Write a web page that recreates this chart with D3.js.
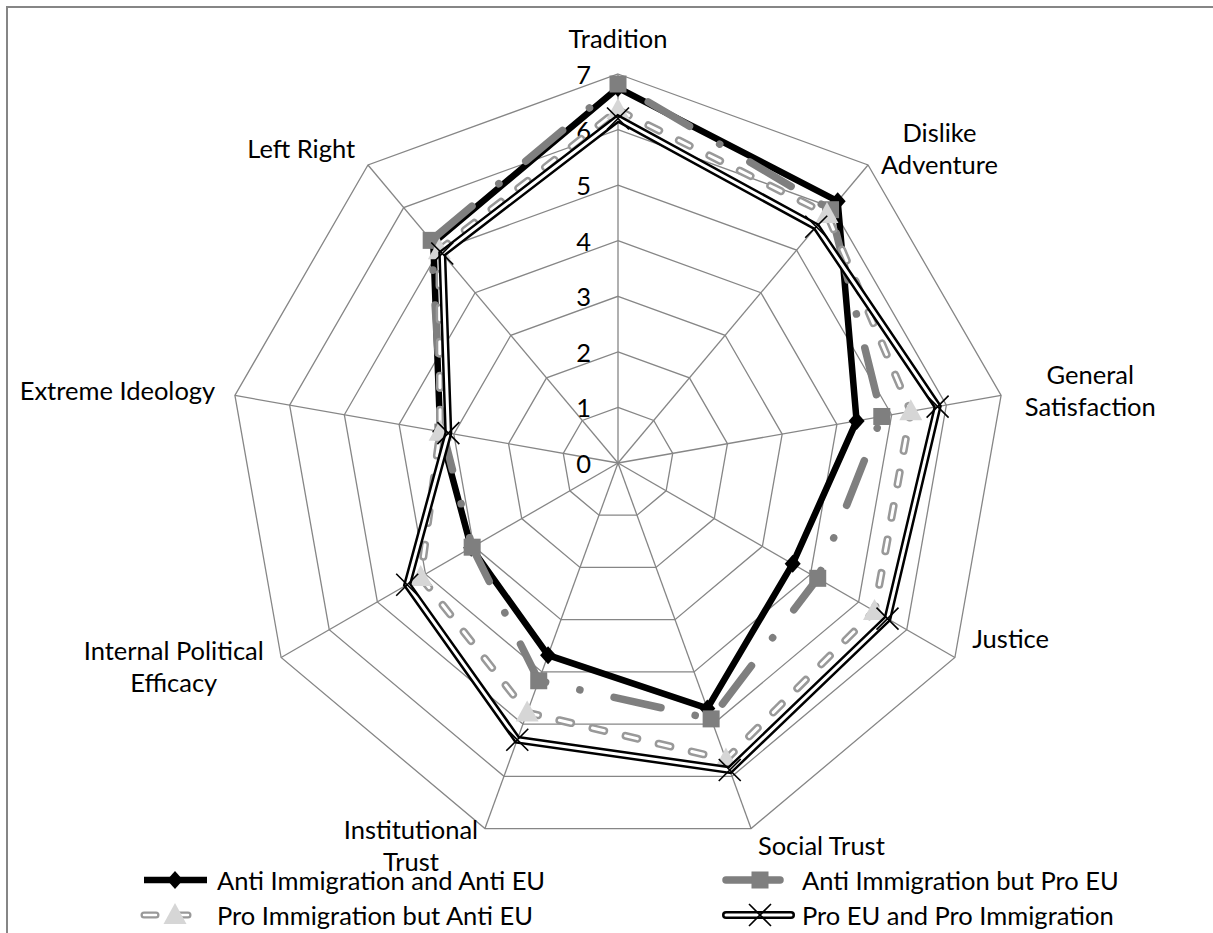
<!DOCTYPE html>
<html><head><meta charset="utf-8">
<script src="https://cdn.jsdelivr.net/npm/d3@7"></script>
<style>
body{margin:0;background:#fff}
svg{display:block}
text{font-family:Lato,'Open Sans',sans-serif;fill:#000}
</style>
</head><body>
<svg id="chart" width="1213" height="933"></svg>
<script>
// ---------- data ----------
const categories = ["Tradition", "Dislike\nAdventure", "General\nSatisfaction", "Justice", "Social Trust",
  "Institutional\nTrust", "Internal Political\nEfficacy", "Extreme Ideology", "Left Right"];
const seriesNames = ["Anti Immigration and Anti EU", "Anti Immigration but Pro EU",
  "Pro Immigration but Anti EU", "Pro EU and Pro Immigration"];
const antiImmAntiEU = [6.75, 6.15, 4.36, 3.63, 4.70, 3.68, 3.05, 3.25, 5.17];
const antiImmProEU  = [6.82, 5.95, 4.82, 4.15, 4.90, 4.17, 3.03, 3.20, 5.23];
const proImmAntiEU  = [6.35, 5.85, 5.35, 5.33, 5.68, 4.78, 4.10, 3.25, 5.00];
const proEUProImm   = [6.20, 5.55, 5.84, 5.60, 5.88, 5.30, 4.38, 3.10, 4.92];
const tickValues = [0, 1, 2, 3, 4, 5, 6, 7];

// ---------- layout ----------
const svg = d3.select("#chart");
const cx = 618, cy = 463, R = 389;
const FONT = 25.5;
const GRID = "#868686";
// small vertical/horizontal nudges for axis-label placement (layout only)
const labelNudge = [[0, 0], [0, 0], [4, 0], [0, -28], [0, 0], [0, 0], [0, 0], [0, 0], [0, 0]];

svg.append("rect").attr("x", 7).attr("y", 7).attr("width", 1400).attr("height", 1200)
  .attr("fill", "none").attr("stroke", GRID).attr("stroke-width", 2);

const r = d3.scaleLinear().domain([0, 7]).range([0, R]);
const n = categories.length;
const ang = d3.scaleLinear().domain([0, n]).range([0, 2 * Math.PI]);
const px = (i, v) => cx + r(v) * Math.sin(ang(i));
const py = (i, v) => cy - r(v) * Math.cos(ang(i));

const g = svg.append("g");

// grid rings
tickValues.filter(t => t > 0).forEach(t => {
  g.append("path")
    .attr("d", d3.line().curve(d3.curveLinearClosed)(d3.range(n).map(i => [px(i, t), py(i, t)])))
    .attr("fill", "none").attr("stroke", GRID).attr("stroke-width", 1.3);
});
// spokes
d3.range(n).forEach(i => {
  g.append("line").attr("x1", cx).attr("y1", cy).attr("x2", px(i, 7)).attr("y2", py(i, 7))
    .attr("stroke", GRID).attr("stroke-width", 1.3);
});
// tick labels
g.selectAll(".tick").data(tickValues).join("text")
  .attr("x", cx - 27).attr("y", d => cy - r(d))
  .attr("text-anchor", "end").attr("dominant-baseline", "central")
  .attr("font-size", FONT).text(d => d);

// axis labels
const lineH = 32;
categories.forEach((c, i) => {
  const a = ang(i), s = Math.sin(a), co = -Math.cos(a);
  const vx = px(i, 7), vy = py(i, 7);
  const ax = vx + 20 * s + labelNudge[i][0], ay = vy + 20 * co + labelNudge[i][1];
  const lines = c.split("\n");
  const tg = g.append("g");
  const texts = lines.map(l => tg.append("text").attr("font-size", FONT).attr("text-anchor", "middle").text(l));
  const wMax = d3.max(texts, t => t.node().getComputedTextLength());
  const hBlock = lines.length * lineH;
  let centerX, topY;
  if (Math.abs(s) < 0.05) {
    centerX = ax;
    topY = co < 0 ? ay - hBlock : ay;
  } else {
    centerX = s > 0 ? ax + wMax / 2 : ax - wMax / 2;
    topY = ay - hBlock / 2 - 2;
  }
  texts.forEach((t, k) => t.attr("x", centerX).attr("y", topY + lineH * (k + 0.5)).attr("dominant-baseline", "central"));
});

// ---------- series ----------
const radial = d3.lineRadial().angle((d, i) => ang(i)).radius(d => r(d)).curve(d3.curveLinearClosed);
const sg = svg.append("g").attr("transform", `translate(${cx},${cy})`);

const marker = {
  diamond: (sel, x, y) => sel.append("path").attr("d", `M${x},${y-9}L${x+8},${y}L${x},${y+9}L${x-8},${y}Z`).attr("fill", "#000"),
  square: (sel, x, y) => sel.append("rect").attr("x", x - 8.5).attr("y", y - 8.5).attr("width", 17).attr("height", 17).attr("fill", "#7f7f7f"),
  triangle: (sel, x, y) => sel.append("path").attr("d", `M${x},${y-12}L${x+11.5},${y+9}L${x-11.5},${y+9}Z`).attr("fill", "#d6d6d6"),
  cross: (sel, x, y) => sel.append("path").attr("d", `M${x-11},${y-11}L${x+11},${y+11}M${x-11},${y+11}L${x+11},${y-11}`).attr("stroke", "#000").attr("stroke-width", 1.6).attr("fill", "none")
};

function drawLine(sel, dFn, style) {
  style.forEach(st => {
    const p = dFn(sel).attr("fill", "none");
    Object.entries(st).forEach(([k, v]) => p.attr(k, v));
  });
}
const styles = [
  [{stroke: "#000", "stroke-width": 6.5, "stroke-linejoin": "miter"}],
  [{stroke: "#7f7f7f", "stroke-width": 7.5, "stroke-dasharray": "0.1 35 48 35", "stroke-linecap": "round"}],
  [{stroke: "#999", "stroke-width": 8, "stroke-dasharray": "12 22", "stroke-linecap": "round"},
   {stroke: "#fff", "stroke-width": 3, "stroke-dasharray": "12 22", "stroke-linecap": "round"}],
  [{stroke: "#000", "stroke-width": 8}, {stroke: "#fff", "stroke-width": 3}]
];
const markers = ["diamond", "square", "triangle", "cross"];
const allSeries = [antiImmAntiEU, antiImmProEU, proImmAntiEU, proEUProImm];

allSeries.forEach((vals, si) => {
  const gg = sg.append("g");
  drawLine(gg, s => s.append("path").attr("d", radial(vals)), styles[si]);
  vals.forEach((v, i) => marker[markers[si]](gg, r(v) * Math.sin(ang(i)), -r(v) * Math.cos(ang(i))));
});

// ---------- legend ----------
const legendPos = [
  {x0: 140, x1: 211, mx: 175, tx: 217, y: 880},
  {x0: 722, x1: 784, mx: 760, tx: 802, y: 880},
  {x0: 140, x1: 211, mx: 175, tx: 217, y: 915},
  {x0: 722, x1: 795, mx: 760, tx: 802, y: 915}
];
const legendStyles = [
  styles[0],
  [{stroke: "#7f7f7f", "stroke-width": 7.5, "stroke-linecap": "round"}],
  [{stroke: "#999", "stroke-width": 7, "stroke-dasharray": "12 20", "stroke-linecap": "round"},
   {stroke: "#fff", "stroke-width": 2.5, "stroke-dasharray": "12 20", "stroke-linecap": "round"}],
  [{stroke: "#000", "stroke-width": 8, "stroke-linecap": "round"}, {stroke: "#fff", "stroke-width": 3, "stroke-linecap": "round"}]
];
seriesNames.forEach((name, si) => {
  const L = legendPos[si];
  const lg = svg.append("g");
  drawLine(lg, s => s.append("path").attr("d", `M${L.x0 + 4},${L.y}L${L.x1 - 4},${L.y}`), legendStyles[si]);
  marker[markers[si]](lg, L.mx, L.y);
  lg.append("text").attr("x", L.tx).attr("y", L.y).attr("dominant-baseline", "central")
    .attr("font-size", FONT).text(name);
});
</script>
</body></html>
